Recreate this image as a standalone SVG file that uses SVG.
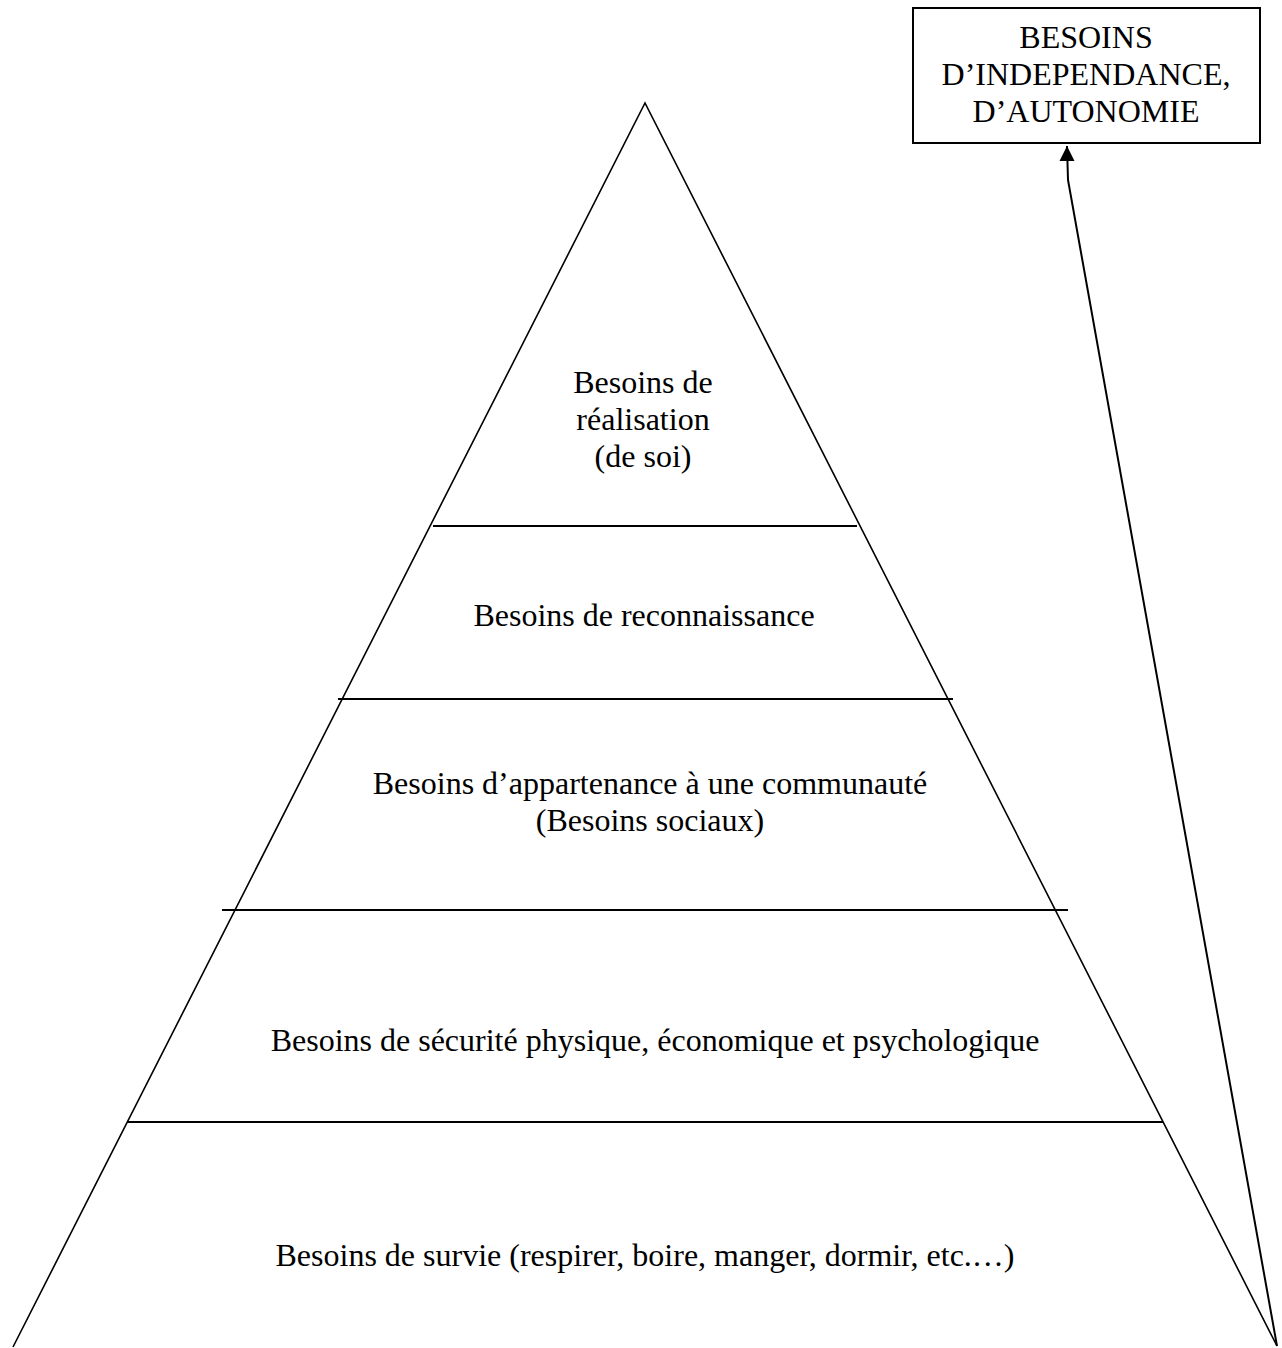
<svg xmlns="http://www.w3.org/2000/svg" width="1282" height="1348" viewBox="0 0 1282 1348">
<style>
text { font-family: "Liberation Serif", "Times New Roman", serif; font-size: 32px; fill: #000; text-anchor: middle; }
.side { stroke: #000; stroke-width: 1.6; fill: none; }
.sep { stroke: #000; stroke-width: 2.2; fill: none; }
.box { stroke: #000; stroke-width: 2; fill: #fff; }
.conn { stroke: #000; stroke-width: 2; fill: none; }
</style>
<defs>
<marker id="arrow" markerWidth="16" markerHeight="16" refX="8" refY="1" orient="0" markerUnits="userSpaceOnUse" viewBox="0 0 16 16">
<path d="M8,1 L15.5,16 L0.5,16 Z" fill="#000"/>
</marker>
</defs>
<rect width="1282" height="1348" fill="#fff"/>
<g id="pyramid">
<path class="side" d="M13,1347 L645,103 L1277,1346"/>
<line class="sep" x1="433" y1="526" x2="857" y2="526"/>
<line class="sep" x1="338" y1="699" x2="953" y2="699"/>
<line class="sep" x1="222" y1="910" x2="1068" y2="910"/>
<line class="sep" x1="127" y1="1122" x2="1163" y2="1122"/>
</g>
<g id="level-realisation">
<text x="643" y="393">Besoins de</text>
<text x="643" y="430">réalisation</text>
<text x="643" y="467">(de soi)</text>
</g>
<g id="level-reconnaissance">
<text x="644" y="626">Besoins de reconnaissance</text>
</g>
<g id="level-appartenance">
<text x="650" y="794">Besoins d’appartenance à une communauté</text>
<text x="650" y="831">(Besoins sociaux)</text>
</g>
<g id="level-securite">
<text x="655" y="1051">Besoins de sécurité physique, économique et psychologique</text>
</g>
<g id="level-survie">
<text x="645" y="1266">Besoins de survie (respirer, boire, manger, dormir, etc.…)</text>
</g>
<g id="box-independance">
<rect class="box" x="913" y="8" width="347" height="135"/>
<text x="1086" y="48">BESOINS</text>
<text x="1086" y="85">D’INDEPENDANCE,</text>
<text x="1086" y="122">D’AUTONOMIE</text>
</g>
<g id="connectors">
<path class="conn" d="M1277,1346 L1068,180 L1067,146" marker-end="url(#arrow)"/>
</g>
</svg>
